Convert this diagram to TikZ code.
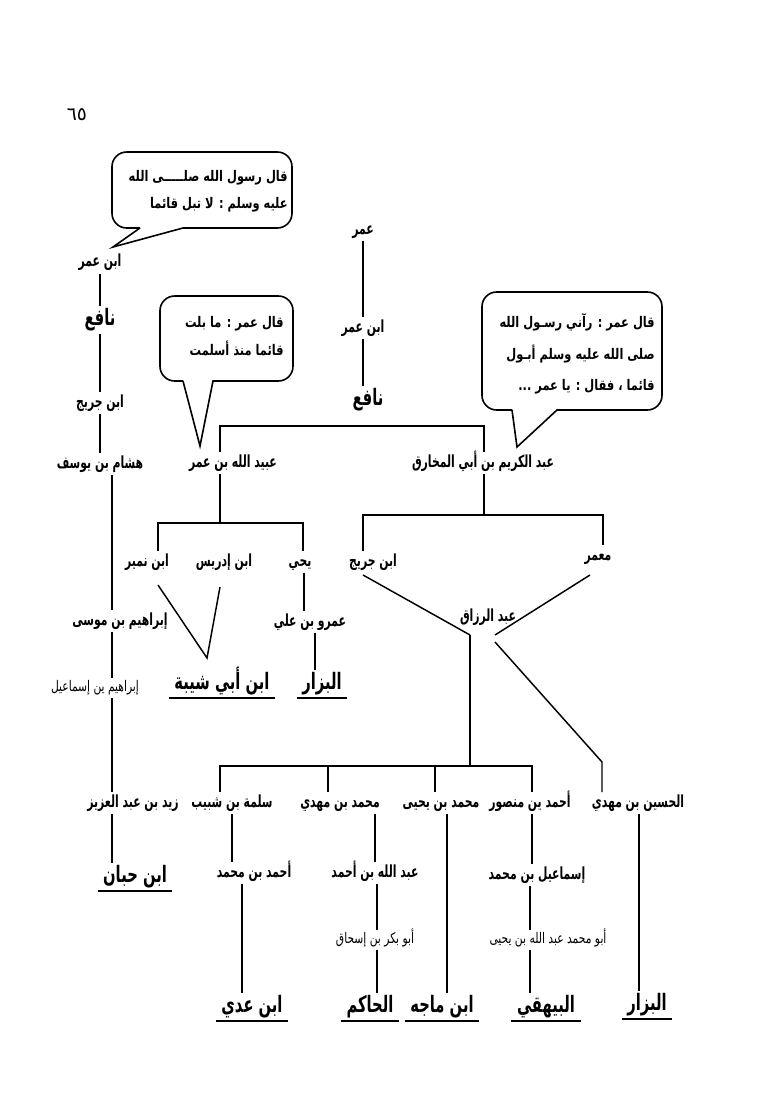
\documentclass[tikz,border=0pt]{standalone}
\usepackage{fontspec}
\newfontfamily\arabicfont[Script=Arabic]{DejaVu Sans}
\newfontfamily\arabicnarrow[Script=Arabic,FakeStretch=0.65]{DejaVu Sans}
\newfontfamily\arabicsmall[Script=Arabic,FakeStretch=0.73]{DejaVu Sans}
\newfontfamily\arabicbub[Script=Arabic,FakeStretch=0.78]{DejaVu Sans}
\TeXXeTstate=1
\newcommand\ar[1]{\beginR #1\endR}
\begin{document}
\begin{tikzpicture}[x=0.75pt,y=-0.75pt,
  nm/.style={font=\arabicnarrow\bfseries\fontsize{12.5}{14}\selectfont, inner sep=2pt, text height=9pt, text depth=3pt},
  bg/.style={font=\arabicnarrow\bfseries\fontsize{17}{19}\selectfont, inner sep=2pt, text height=12pt, text depth=4.5pt},
  sm/.style={font=\arabicsmall\fontsize{11}{13}\selectfont, inner sep=2pt, text height=7.5pt, text depth=3pt},
  bt/.style={font=\arabicbub\bfseries\fontsize{11}{20}\selectfont, align=right, inner sep=0pt},
  ln/.style={line width=1.1pt},
  bub/.style={line width=1.2pt}]
\fill[white] (0,0) rectangle (763,1116);
\useasboundingbox (0,0) rectangle (763,1116);
\newcommand\ulin[1]{\draw[ln] ([xshift=-2pt]#1.south west) -- ([xshift=2pt]#1.south east);}

% page number
\node[font=\arabicfont\fontsize{14}{16}\selectfont] (pg) at (77,115) {٦٥};

% speech bubbles
\draw[bub] (140,228) -- (113,247) -- (183,228) [rounded corners=11pt] -- (292,228) -- (292,152) -- (112,152) -- (112,228) -- (140,228);
\node[bt, anchor=east] (b1) at (288,191) {\ar{قال رسول الله صلـــــى الله}\\\ar{عليه وسلم : لا تبل قائما}};

\draw[bub] (183,381) -- (200,446) -- (213,381) [rounded corners=11pt] -- (293,381) -- (293,296) -- (160,296) -- (160,381) -- (183,381);
\node[bt, anchor=east, font=\arabicbub\bfseries\fontsize{11}{21}\selectfont] (b2) at (284,336) {\ar{قال عمر : ما بلت}\\\ar{قائما منذ أسلمت}};

\draw[bub] (512,410) -- (517,447) -- (557,410) [rounded corners=11pt] -- (662,410) -- (662,292) -- (482,292) -- (482,410) -- (512,410);
\node[bt, anchor=east, font=\arabicbub\bfseries\fontsize{11}{23.5}\selectfont] (b3) at (655,354) {\ar{قال عمر : رآني رسـول الله}\\\ar{صلى الله عليه وسلم أبـول}\\\ar{قائما ، فقال : يا عمر ...}};

% left column
\node[nm] (L1) at (100,263) {\ar{ابن عمر}};
\node[bg] (L2) at (100,320) {\ar{نافع}};
\node[nm] (L3) at (100,403) {\ar{ابن جريج}};
\node[nm] (L4) at (100,464) {\ar{هشام بن يوسف}};
\node[nm] (L5) at (120,621) {\ar{إبراهيم بن موسى}};
\node[sm] (L6) at (95,688) {\ar{إبراهيم ين إسماعيل}};
\node[nm] (L7) at (133,803) {\ar{زيد بن عبد العزيز}};
\node[bg] (L8) at (135,877) {\ar{ابن حبان}};
\ulin{L8}
\coordinate (xa) at (100,0);
\coordinate (xb) at (112,0);
\draw[ln] (L1.south -| xa) -- (L2.north -| xa);
\draw[ln] (L2.south -| xa) -- (L3.north -| xa);
\draw[ln] (L3.south -| xa) -- (L4.north -| xa);
\draw[ln] (L4.south -| xb) -- (L5.north -| xb);
\draw[ln] (L5.south -| xb) -- (L6.north -| xb);
\draw[ln] (L6.south -| xb) -- (L7.north -| xb);
\draw[ln] (L7.south -| xb) -- (L8.north -| xb);

% middle top
\node[nm] (M1) at (363,230) {\ar{عمر}};
\node[nm] (M2) at (363,328) {\ar{ابن عمر}};
\node[bg] (M3) at (368,400) {\ar{نافع}};
\coordinate (xm) at (363,0);
\draw[ln] (M1.south -| xm) -- (M2.north -| xm);
\draw[ln] (M2.south -| xm) -- (M3.north -| xm);

\node[nm] (A) at (233,463) {\ar{عبيد الله بن عمر}};
\node[nm] (K) at (483,463) {\ar{عبد الكريم بن أبي المخارق}};
\coordinate (bL) at (220,426);
\coordinate (bR) at (484,426);
\draw[ln] (A.north -| bL) -- (bL) -- (bR) -- (K.north -| bR);

% under Ubaidullah
\node[nm] (A1) at (147,562) {\ar{ابن نمير}};
\node[nm] (A2) at (224,562) {\ar{ابن إدريس}};
\node[nm] (A3) at (300,562) {\ar{يحي}};
\coordinate (aT) at (220,523);
\coordinate (aL) at (158,523);
\coordinate (aR) at (303,523);
\draw[ln] (A.south -| aT) -- (aT);
\draw[ln] (A1.north -| aL) -- (aL) -- (aR) -- (A3.north -| aR);
\node[bg] (A4) at (222,684) {\ar{ابن أبي شيبة}};
\ulin{A4}
\coordinate (v1) at (158,585);
\coordinate (v2) at (220,587);
\coordinate (vt) at (207,658);
\draw[ln] (v1) -- (vt) -- (v2);
\node[nm] (A5) at (310,622) {\ar{عمرو بن علي}};
\node[bg] (A6) at (322,684) {\ar{البزار}};
\ulin{A6}
\coordinate (xy) at (304,0);
\coordinate (xz) at (315,0);
\draw[ln] (A3.south -| xy) -- (A5.north -| xy);
\draw[ln] (A5.south -| xz) -- (A6.north -| xz);

% under Abd al-Karim
\node[nm] (K1) at (373,562) {\ar{ابن جريج}};
\node[nm] (K2) at (598,556) {\ar{معمر}};
\coordinate (kT) at (484,515);
\coordinate (kL) at (363,515);
\coordinate (kR) at (603,515);
\draw[ln] (K.south -| kT) -- (kT);
\draw[ln] (K1.north -| kL) -- (kL) -- (kR) -- (K2.north -| kR);
\node[nm] (R) at (488,617) {\ar{عبد الرزاق}};
\coordinate (r1) at (363,575);
\coordinate (r2) at (470,635);
\coordinate (r3) at (590,575);
\coordinate (r4) at (495,635);
\draw[ln] (r1) -- (r2);
\draw[ln] (r3) -- (r4);

% children of Abd al-Razzaq
\node[nm] (C1) at (232,803) {\ar{سلمة بن شبيب}};
\node[nm] (C2) at (340,803) {\ar{محمد بن مهدي}};
\node[nm] (C3) at (441,803) {\ar{محمد بن يحيى}};
\node[nm] (C4) at (530,803) {\ar{أحمد ين منصور}};
\node[nm] (C5) at (638,803) {\ar{الحسين بن مهدي}};
\coordinate (cT) at (470,766);
\draw[ln] (r2) -- (cT);
\coordinate (r5) at (495,642);
\coordinate (r6) at (602,762);
\draw[ln] (r5) -- (r6) -- (C5.north -| r6);
\coordinate (c1) at (220,766);
\coordinate (c2) at (328,766);
\coordinate (c3) at (435,766);
\coordinate (c4) at (532,766);
\draw[ln] (C1.north -| c1) -- (c1) -- (c4) -- (C4.north -| c4);
\draw[ln] (c2) -- (C2.north -| c2);
\draw[ln] (c3) -- (C3.north -| c3);

% chains
\node[nm] (C1a) at (254,873) {\ar{أحمد بن محمد}};
\node[bg] (C1b) at (252,1007) {\ar{ابن عدي}};
\ulin{C1b}
\coordinate (x1) at (232,0);
\coordinate (x1b) at (242,0);
\draw[ln] (C1.south -| x1) -- (C1a.north -| x1);
\draw[ln] (C1a.south -| x1b) -- (C1b.north -| x1b);

\node[nm] (C2a) at (375,873) {\ar{عبد الله بن أحمد}};
\node[sm] (C2b) at (375,940) {\ar{أبو بكر بن إسحاق}};
\node[bg] (C2c) at (370,1007) {\ar{الحاكم}};
\ulin{C2c}
\coordinate (x2) at (375,0);
\coordinate (x2b) at (377,0);
\draw[ln] (C2.south -| x2) -- (C2a.north -| x2);
\draw[ln] (C2a.south -| x2b) -- (C2b.north -| x2b);
\draw[ln] (C2b.south -| x2b) -- (C2c.north -| x2b);

\node[bg] (C3a) at (442,1007) {\ar{ابن ماجه}};
\ulin{C3a}
\coordinate (x3) at (447,0);
\draw[ln] (C3.south -| x3) -- (C3a.north -| x3);

\node[nm] (C4a) at (537,875) {\ar{إسماعيل بن محمد}};
\node[sm] (C4b) at (548,940) {\ar{أبو محمد عبد الله بن يحيى}};
\node[bg] (C4c) at (546,1007) {\ar{البيهقي}};
\ulin{C4c}
\coordinate (x4) at (532,0);
\coordinate (x4b) at (530,0);
\draw[ln] (C4.south -| x4) -- (C4a.north -| x4);
\draw[ln] (C4a.south -| x4b) -- (C4b.north -| x4b);
\draw[ln] (C4b.south -| x4b) -- (C4c.north -| x4b);

\node[bg] (C5a) at (647,1005) {\ar{البزار}};
\ulin{C5a}
\coordinate (x5) at (639,0);
\draw[ln] (C5.south -| x5) -- (C5a.north -| x5);
\end{tikzpicture}
\end{document}
